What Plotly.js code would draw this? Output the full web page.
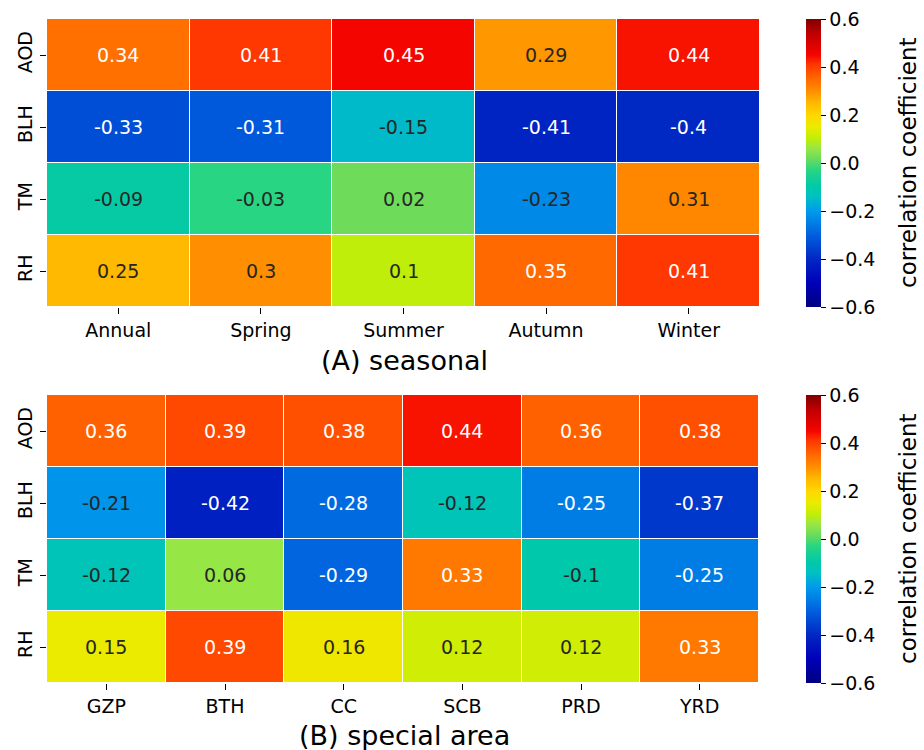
<!DOCTYPE html>
<html>
<head>
<meta charset="utf-8">
<script src="https://cdn.plot.ly/plotly-3.0.1.min.js"></script>
<style>html,body{margin:0;padding:0;background:#fff;}#chart{width:924px;height:750px;}</style>
</head>
<body>
<div id="chart"></div>
<script>
// ---- data ----
const variables = ['AOD', 'BLH', 'TM', 'RH'];
const seasonCats = ['Annual', 'Spring', 'Summer', 'Autumn', 'Winter'];
const seasonAOD = [0.34, 0.41, 0.45, 0.29, 0.44];
const seasonBLH = [-0.33, -0.31, -0.15, -0.41, -0.4];
const seasonTM  = [-0.09, -0.03, 0.02, -0.23, 0.31];
const seasonRH  = [0.25, 0.3, 0.1, 0.35, 0.41];
const areaCats = ['GZP', 'BTH', 'CC', 'SCB', 'PRD', 'YRD'];
const areaAOD = [0.36, 0.39, 0.38, 0.44, 0.36, 0.38];
const areaBLH = [-0.21, -0.42, -0.28, -0.12, -0.25, -0.37];
const areaTM  = [-0.12, 0.06, -0.29, 0.33, -0.1, -0.25];
const areaRH  = [0.15, 0.39, 0.16, 0.12, 0.12, 0.33];
const zMin = -0.6, zMax = 0.6;
const cbTicks = [-0.6, -0.4, -0.2, 0.0, 0.2, 0.4, 0.6];

// ---- colour scale as it appears in the reference (jet-like) ----
const scaleStops = [0, 0.0833, 0.1667, 0.25, 0.3333, 0.3833, 0.4167, 0.475, 0.5167, 0.55, 0.5833, 0.625, 0.6667, 0.7083, 0.75, 0.7917, 0.8417, 0.875, 0.95, 1];
const scaleColors = ['rgb(0,0,128)', 'rgb(0,0,185)', 'rgb(0,40,195)', 'rgb(0,95,222)', 'rgb(0,155,235)',
  'rgb(0,192,195)', 'rgb(0,200,170)', 'rgb(40,213,130)', 'rgb(110,220,90)', 'rgb(150,230,70)',
  'rgb(190,238,10)', 'rgb(235,235,0)', 'rgb(255,215,0)', 'rgb(255,185,0)', 'rgb(255,142,0)',
  'rgb(255,105,0)', 'rgb(255,55,0)', 'rgb(245,5,0)', 'rgb(190,0,0)', 'rgb(128,0,0)'];
const colorscale = scaleStops.map((s, i) => [s, scaleColors[i]]);

// ---- annotation text colour: seaborn rule on matplotlib "jet" luminance ----
const jetSeg = {
  r: [[0,0],[0.35,0],[0.66,1],[0.89,1],[1,0.5]],
  g: [[0,0],[0.125,0],[0.375,1],[0.64,1],[0.91,0],[1,0]],
  b: [[0,0.5],[0.11,1],[0.34,1],[0.65,0],[1,0]]
};
function segVal(seg, t) {
  for (let i = 0; i < seg.length - 1; i++) {
    const [x0, y0] = seg[i], [x1, y1] = seg[i + 1];
    if (t >= x0 && t <= x1) return y0 + (y1 - y0) * (t - x0) / (x1 - x0);
  }
  return seg[seg.length - 1][1];
}
function jet(t) { return [segVal(jetSeg.r, t), segVal(jetSeg.g, t), segVal(jetSeg.b, t)]; }
function textColor(v) {
  const t = (v - zMin) / (zMax - zMin);
  const lin = jet(t).map(c => c <= 0.03928 ? c / 12.92 : Math.pow((c + 0.055) / 1.055, 2.4));
  const lum = 0.2126 * lin[0] + 0.7152 * lin[1] + 0.0722 * lin[2];
  return lum > 0.408 ? '#262626' : '#ffffff';
}

const font = 'DejaVu Sans, Liberation Sans, sans-serif';
const zSeason = [seasonAOD, seasonBLH, seasonTM, seasonRH];
const zArea = [areaAOD, areaBLH, areaTM, areaRH];

function cbar(yc) {
  return {
    x: 806 / 924, xanchor: 'left', xpad: 0, ypad: 0,
    y: yc, yanchor: 'middle', len: 288, lenmode: 'pixels',
    thickness: 15, thicknessmode: 'pixels', outlinewidth: 0,
    ticks: 'outside', ticklen: 5, tickwidth: 1, tickcolor: '#000',
    tickvals: cbTicks, tickformat: '.1f',
    tickfont: {family: font, size: 19, color: '#000'}
  };
}

const traces = [
  {type: 'heatmap', x: seasonCats, y: variables, z: zSeason, zmin: zMin, zmax: zMax,
   colorscale: colorscale, xgap: 1, ygap: 1, xaxis: 'x', yaxis: 'y', colorbar: cbar((750 - 163) / 750), hoverinfo: 'skip'},
  {type: 'heatmap', x: areaCats, y: variables, z: zArea, zmin: zMin, zmax: zMax,
   colorscale: colorscale, xgap: 1, ygap: 1, xaxis: 'x2', yaxis: 'y2', colorbar: cbar((750 - 539) / 750), hoverinfo: 'skip'}
];

const annotations = [];
function addCells(cats, z, xr, yr) {
  z.forEach((row, i) => row.forEach((v, j) => {
    annotations.push({x: cats[j], y: variables[i], xref: xr, yref: yr, text: String(v), showarrow: false,
      font: {family: font, size: 19, color: textColor(v)}});
  }));
}
addCells(seasonCats, zSeason, 'x', 'y');
addCells(areaCats, zArea, 'x2', 'y2');
annotations.push({text: '(A) seasonal', xref: 'paper', yref: 'paper', x: 404 / 924, y: (750 - 360) / 750,
  xanchor: 'center', yanchor: 'middle', showarrow: false, font: {family: font, size: 27, color: '#000'}});
annotations.push({text: '(B) special area', xref: 'paper', yref: 'paper', x: 404 / 924, y: (750 - 735) / 750,
  xanchor: 'center', yanchor: 'middle', showarrow: false, font: {family: font, size: 27, color: '#000'}});
[163, 539].forEach(yc => annotations.push({text: 'correlation coefficient', xref: 'paper', yref: 'paper',
  x: 908 / 924, y: (750 - yc) / 750, xanchor: 'center', yanchor: 'middle', textangle: -90, showarrow: false,
  borderpad: 0, font: {family: font, size: 23, color: '#000'}}));

const xStyle = {ticks: 'outside', ticklen: 6, tickwidth: 1, tickcolor: '#000', showgrid: false, zeroline: false,
  showline: false, tickfont: {family: font, size: 19, color: '#000'}, fixedrange: true};
const yStyle = Object.assign({}, xStyle, {autorange: 'reversed', tickangle: -90});

const layout = {
  width: 924, height: 750, margin: {l: 0, r: 0, t: 0, b: 0},
  paper_bgcolor: '#fff', plot_bgcolor: '#fff', showlegend: false,
  xaxis: Object.assign({}, xStyle, {domain: [47 / 924, 760 / 924], anchor: 'y'}),
  yaxis: Object.assign({}, yStyle, {domain: [(750 - 307) / 750, (750 - 19) / 750], anchor: 'x'}),
  xaxis2: Object.assign({}, xStyle, {domain: [47 / 924, 759 / 924], anchor: 'y2'}),
  yaxis2: Object.assign({}, yStyle, {domain: [(750 - 683) / 750, (750 - 395) / 750], anchor: 'x2'}),
  annotations: annotations
};

Plotly.newPlot('chart', traces, layout, {staticPlot: true});
</script>
</body>
</html>
